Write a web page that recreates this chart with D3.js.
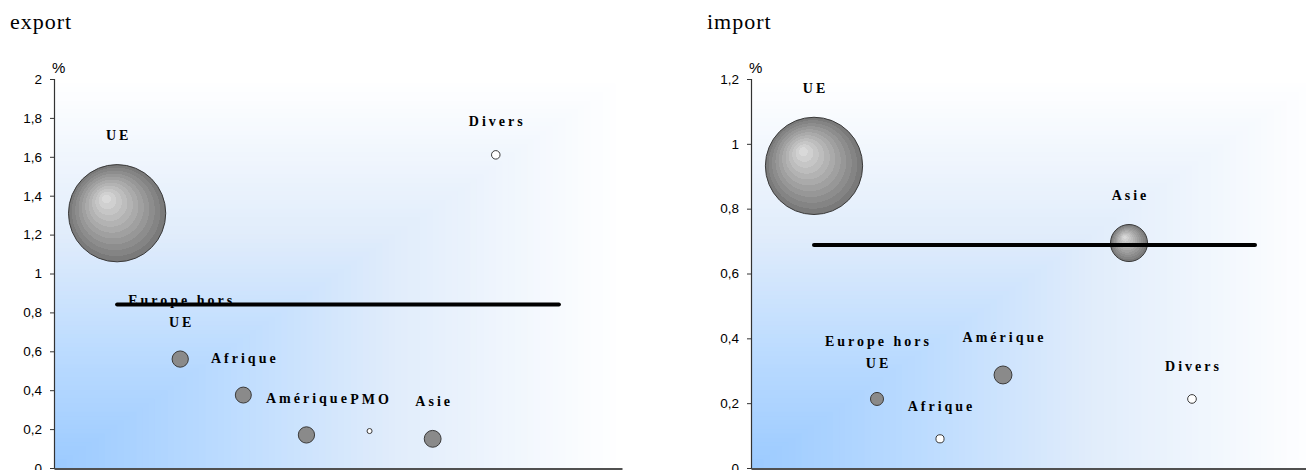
<!DOCTYPE html>
<html>
<head>
<meta charset="utf-8">
<script src="https://cdn.jsdelivr.net/npm/d3@7"></script>
<style>
html,body{margin:0;padding:0;background:#fff;overflow:hidden;}
svg{display:block;}
</style>
</head>
<body>
<svg id="chart" width="1306" height="470"></svg>
<script>
// ---- data ----
const categories = ["UE", "Europe hors UE", "Afrique", "Amérique", "PMO", "Asie", "Divers"];
const exportValues = [1.31, 0.56, 0.375, 0.17, 0.19, 0.15, 1.61];
const exportSizes  = [100, 2.8, 2.7, 2.8, -0.27, 3.0, -0.77];
const exportMean   = 0.84;
const exportTicks  = [0, 0.2, 0.4, 0.6, 0.8, 1, 1.2, 1.4, 1.6, 1.8, 2];

const importValues = [0.932, 0.213, 0.09, 0.287, null, 0.694, 0.213];
const importSizes  = [100, 1.8, -0.7, 3.4, null, 14.5, -0.8];
const importMean   = 0.688;
const importTicks  = [0, 0.2, 0.4, 0.6, 0.8, 1, 1.2];

const svg = d3.select("#chart");
const defs = svg.append("defs");

// stepped radial gradient for the big bubbles
const grad = defs.append("radialGradient").attr("id", "bubbleGrad")
  .attr("cx", 0.5).attr("cy", 0.5).attr("r", 0.5).attr("fx", 0.38).attr("fy", 0.34);
const bandCol = d3.interpolateRgb("#d9d9d9", "#7a7a7a");
const bands = 11;
for (let i = 0; i < bands; i++) {
  const c = bandCol(i / (bands - 1));
  grad.append("stop").attr("offset", i / bands).attr("stop-color", c);
  grad.append("stop").attr("offset", (i + 1) / bands).attr("stop-color", c);
}

const bgColor = d3.scaleLinear()
  .domain([0, 0.3, 0.6, 1])
  .range(["#9bcaff", "#bbdbff", "#e0ecfb", "#ffffff"])
  .interpolate(d3.interpolateRgb);

function wrapLabel(name) {
  if (name.length > 12) {
    const k = name.lastIndexOf(" ");
    return [name.slice(0, k), name.slice(k + 1)];
  }
  return [name];
}

function fmt(v) { return d3.format("~g")(+v.toFixed(2)).replace(".", ","); }

function drawPanel(opts) {
  const { x0, xEnd, yTop, yBottom, maxV, ticks, values, sizes, mean, title, titleX } = opts;
  const g = svg.append("g");
  const x = d3.scaleLinear().domain([0, 9]).range([x0, xEnd]);
  const y = d3.scaleLinear().domain([0, maxV]).range([yBottom, yTop]);
  const W = xEnd - x0, H = yBottom - yTop;

  // corner gradient background (rectangular contours from bottom-left)
  const N = 90;
  const bg = g.append("g");
  for (let i = N; i >= 1; i--) {
    const f = i / N;
    bg.append("rect")
      .attr("x", x0).attr("y", yBottom - f * H)
      .attr("width", f * W).attr("height", f * H)
      .attr("fill", bgColor(f));
  }

  // title
  svg.append("text").attr("x", titleX).attr("y", 29)
    .attr("font-family", "Liberation Serif, Times New Roman, serif")
    .attr("font-size", 22).attr("letter-spacing", 1)
    .attr("fill", "#000").text(title);

  // % unit
  g.append("text").attr("x", x0 - 2).attr("y", yTop - 6)
    .attr("font-family", "Liberation Sans, Arial, sans-serif")
    .attr("font-size", 15).attr("fill", "#000").text("%");

  // y axis
  const ax = g.append("g").attr("transform", `translate(${x0},0)`)
    .call(d3.axisLeft(y).tickValues(ticks).tickSize(4).tickPadding(8).tickFormat(fmt));
  ax.select(".domain").attr("stroke", "#333").attr("stroke-width", 1.2);
  ax.selectAll(".tick line").attr("stroke", "#333");
  ax.selectAll(".tick text")
    .attr("font-family", "Liberation Sans, Arial, sans-serif")
    .attr("font-size", 13.5).attr("fill", "#000");

  // x axis (bottom line only)
  g.append("g").attr("transform", `translate(0,${yBottom + 0.5})`)
    .call(d3.axisBottom(x).tickValues([]).tickSizeOuter(0))
    .select(".domain").attr("stroke", "#505050").attr("stroke-width", 2);

  // bubbles
  const pts = categories.map((c, i) => ({ name: c, pos: i + 1, v: values[i], s: sizes[i] }))
    .filter(d => d.v != null && d.s != null);
  const maxS = d3.max(pts, d => Math.abs(d.s));
  const r = d3.scaleSqrt().domain([0, maxS]).range([0, H * 0.125]);

  g.append("g").selectAll("circle").data(pts).join("circle")
    .attr("cx", d => x(d.pos)).attr("cy", d => y(d.v))
    .attr("r", d => r(Math.abs(d.s)))
    .attr("fill", d => d.s < 0 ? "#ffffff" : (r(d.s) > 12 ? "url(#bubbleGrad)" : "#8a8a8a"))
    .attr("stroke", "#3a3a3a").attr("stroke-width", 1);

  // labels
  const lab = g.append("g");
  pts.forEach(d => {
    const lines = wrapLabel(d.name);
    const base = y(d.v) - r(Math.abs(d.s)) - 29;
    lines.forEach((ln, j) => {
      lab.append("text")
        .attr("x", x(d.pos) + 1.5)
        .attr("y", base - (lines.length - 1 - j) * 22)
        .attr("dy", "0.35em")
        .attr("text-anchor", "middle")
        .attr("font-family", "Liberation Serif, Times New Roman, serif")
        .attr("font-weight", "bold").attr("font-size", 14)
        .attr("letter-spacing", 3)
        .attr("fill", "#000").text(ln);
    });
  });

  // mean line
  g.append("line")
    .attr("x1", x(1)).attr("x2", x(8))
    .attr("y1", y(mean)).attr("y2", y(mean))
    .attr("stroke", "#000").attr("stroke-width", 4).attr("stroke-linecap", "round");
}

drawPanel({ x0: 54, xEnd: 622, yTop: 79, yBottom: 468, maxV: 2, ticks: exportTicks,
  values: exportValues, sizes: exportSizes, mean: exportMean, title: "export", titleX: 10 });
drawPanel({ x0: 751, xEnd: 1318, yTop: 79, yBottom: 468, maxV: 1.2, ticks: importTicks,
  values: importValues, sizes: importSizes, mean: importMean, title: "import", titleX: 707 });
</script>
</body>
</html>
